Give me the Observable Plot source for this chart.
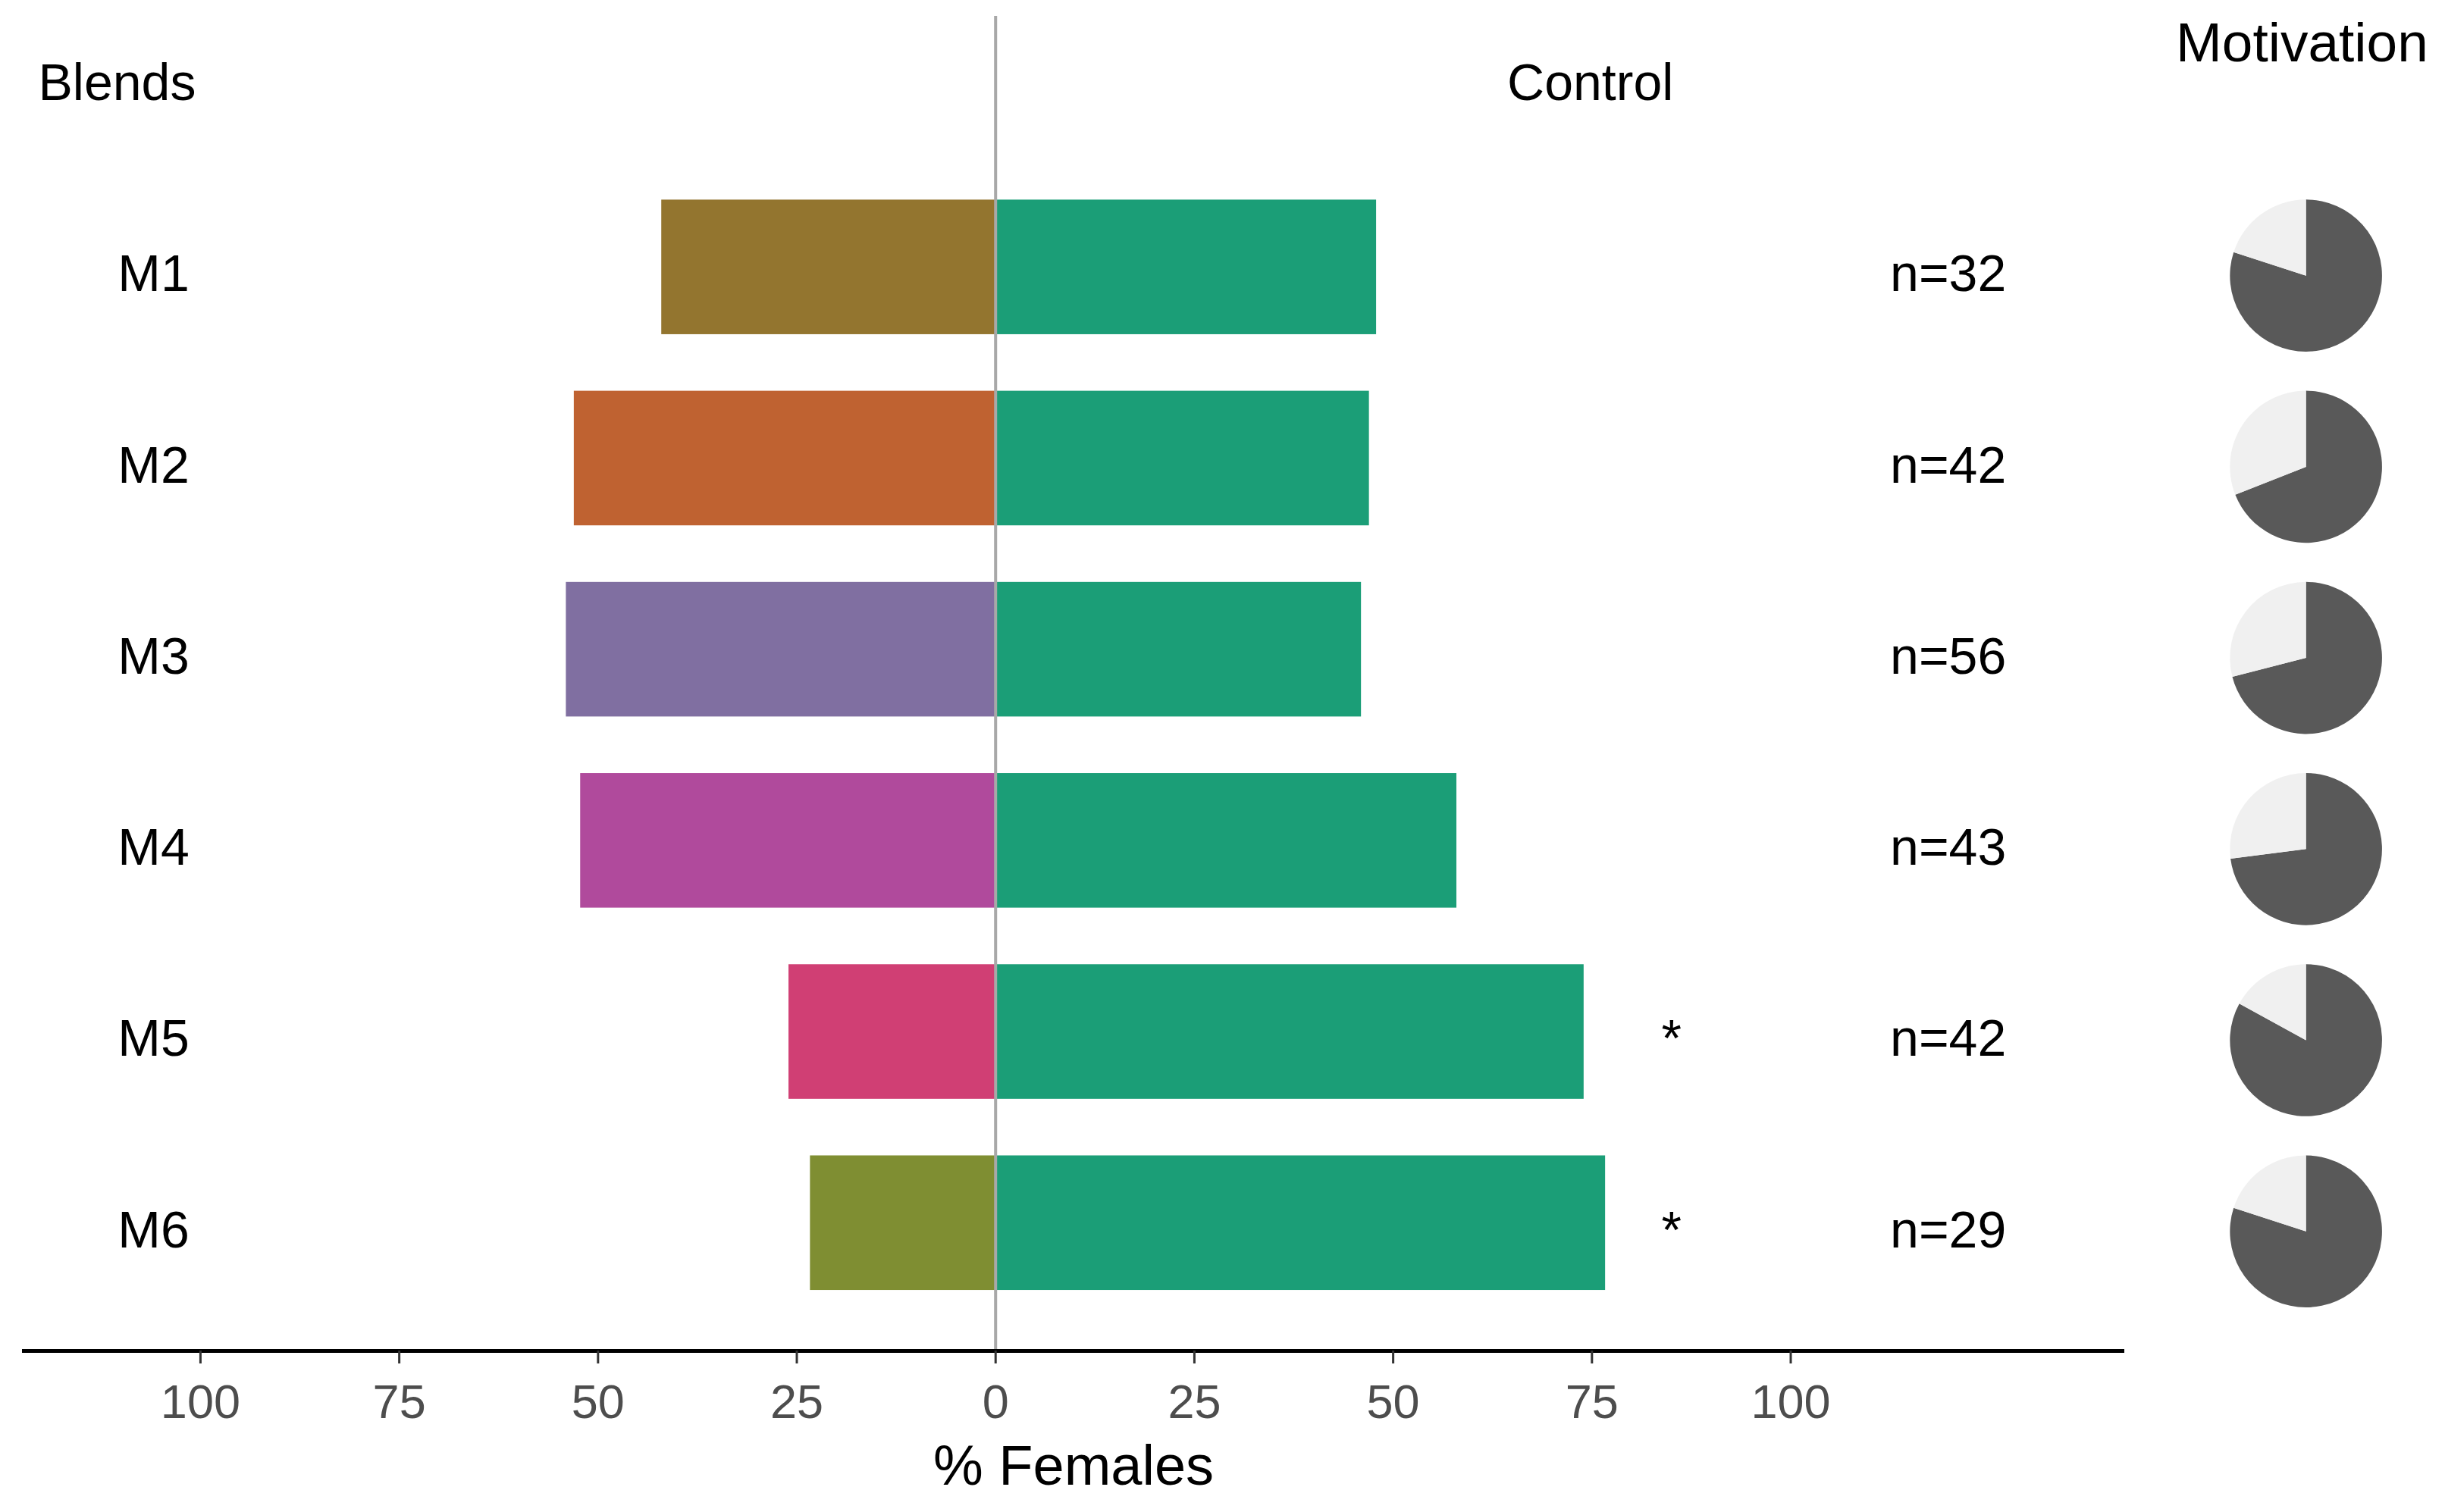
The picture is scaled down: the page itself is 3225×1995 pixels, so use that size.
<!DOCTYPE html>
<html>
<head>
<meta charset="utf-8">
<script src="https://cdn.jsdelivr.net/npm/d3@7"></script>
<script src="https://cdn.jsdelivr.net/npm/@observablehq/plot@0.6"></script>
<style>
  html, body { margin: 0; padding: 0; background: #ffffff; }
</style>
</head>
<body>
<div id="chart"></div>
<script>
// ---- data ----
const blends = ["M1", "M2", "M3", "M4", "M5", "M6"];
const blendPct = [42, 53, 54, 52.2, 26, 23.3];
const controlPct = [47.9, 47, 46, 58, 74, 76.7];
const sampleSize = [32, 42, 56, 43, 42, 29];
const significant = [false, false, false, false, true, true];
const motivated = [0.80, 0.69, 0.71, 0.73, 0.83, 0.80];
const xTicks = [-100, -75, -50, -25, 0, 25, 50, 75, 100];
const headerBlends = "Blends";
const headerControl = "Control";
const headerMotivation = "Motivation";
const xLabel = "% Females";

// ---- styles / layout ----
const blendColors = ["#93752f", "#bf6231", "#806fa1", "#b04a9c", "#d03f74", "#7f8e32"];
const controlColor = "#1b9e77";
const pieDark = "#595959";
const pieLight = "#f0f0f0";
const X_DOMAIN = [-122.4, 142];
const Y_DOMAIN = [-0.313, 6.669];
const labelX = -110.4, starX = 85, nX = 119.8, pieX = 164.8;
const barHalf = 0.352;
const font = "'Liberation Sans', Arial, sans-serif";
const fs = 68;

const rows = blends.map((b, i) => ({
  blend: b, pos: i + 1, blendPct: blendPct[i], controlPct: controlPct[i],
  n: sampleSize[i], sig: significant[i], mot: motivated[i]
}));

function wedge(a0, a1) {
  return {
    draw(context, size) {
      const r = Math.sqrt(size / Math.PI);
      context.moveTo(0, 0);
      context.arc(0, 0, r, a0, a1);
      context.closePath();
    }
  };
}

const pieMarks = rows.flatMap(d => {
  const theta = 2 * Math.PI * (1 - d.mot); // light slice, counter-clockwise from 12 o'clock
  return [
    Plot.dot([d], {x: pieX, y: "pos", r: 100.3, dy: 11, fill: pieDark, stroke: "none",
      symbol: wedge(-Math.PI / 2, 1.5 * Math.PI - theta)}),
    Plot.dot([d], {x: pieX, y: "pos", r: 100.3, dy: 11, fill: pieLight, stroke: "none",
      symbol: wedge(-Math.PI / 2 - theta, -Math.PI / 2)})
  ];
});

const chart = Plot.plot({
  width: 3225,
  height: 1995,
  marginLeft: 29,
  marginRight: 423,
  marginTop: 0,
  marginBottom: 213,
  style: {background: "#ffffff", fontFamily: font, color: "black"},
  x: {domain: X_DOMAIN},
  y: {domain: Y_DOMAIN, range: [21, 1782], axis: null},
  color: {domain: blends, range: blendColors},
  marks: [
    Plot.rectX(rows, {x1: d => -d.blendPct, x2: 0, y1: d => d.pos - barHalf, y2: d => d.pos + barHalf, fill: "blend"}),
    Plot.rectX(rows, {x1: 0, x2: "controlPct", y1: d => d.pos - barHalf, y2: d => d.pos + barHalf, fill: controlColor}),
    Plot.ruleX([0], {y1: Y_DOMAIN[0], y2: Y_DOMAIN[1], stroke: "#a8a8a8", strokeWidth: 4}),
    Plot.ruleY([Y_DOMAIN[1]], {x1: X_DOMAIN[0], x2: X_DOMAIN[1], stroke: "black", strokeWidth: 5}),
    Plot.axisX({ticks: xTicks, tickFormat: d => Math.abs(d), tickSize: 17, tickPadding: 27,
      fontSize: 63, fill: "#4d4d4d", stroke: "#333333", strokeWidth: 3, label: null}),
    Plot.text([xLabel], {text: d => d, x: (X_DOMAIN[0] + X_DOMAIN[1]) / 2, frameAnchor: "bottom",
      lineAnchor: "bottom", dy: 176, fontSize: 74, fill: "black"}),
    Plot.text(rows, {x: labelX, y: "pos", text: "blend", textAnchor: "start", fontSize: fs, dy: 10, fill: "black"}),
    Plot.text(rows.filter(d => d.sig), {x: starX, y: "pos", text: () => "*", fontSize: fs, dy: 10, fill: "black"}),
    Plot.text(rows, {x: nX, y: "pos", text: d => `n=${d.n}`, fontSize: fs, dy: 10, fill: "black"}),
    Plot.text([headerBlends], {text: d => d, x: -120.4, y: 0, textAnchor: "start", fontSize: fs, dy: 10, fill: "black"}),
    Plot.text([headerControl], {text: d => d, x: 74.8, y: 0, fontSize: fs, dy: 10, fill: "black"}),
    Plot.text([headerMotivation], {text: d => d, x: 164.3, y: -0.21, fontSize: 73, dy: 10, fill: "black"}),
    ...pieMarks
  ]
});

document.getElementById("chart").appendChild(chart);
</script>
</body>
</html>
